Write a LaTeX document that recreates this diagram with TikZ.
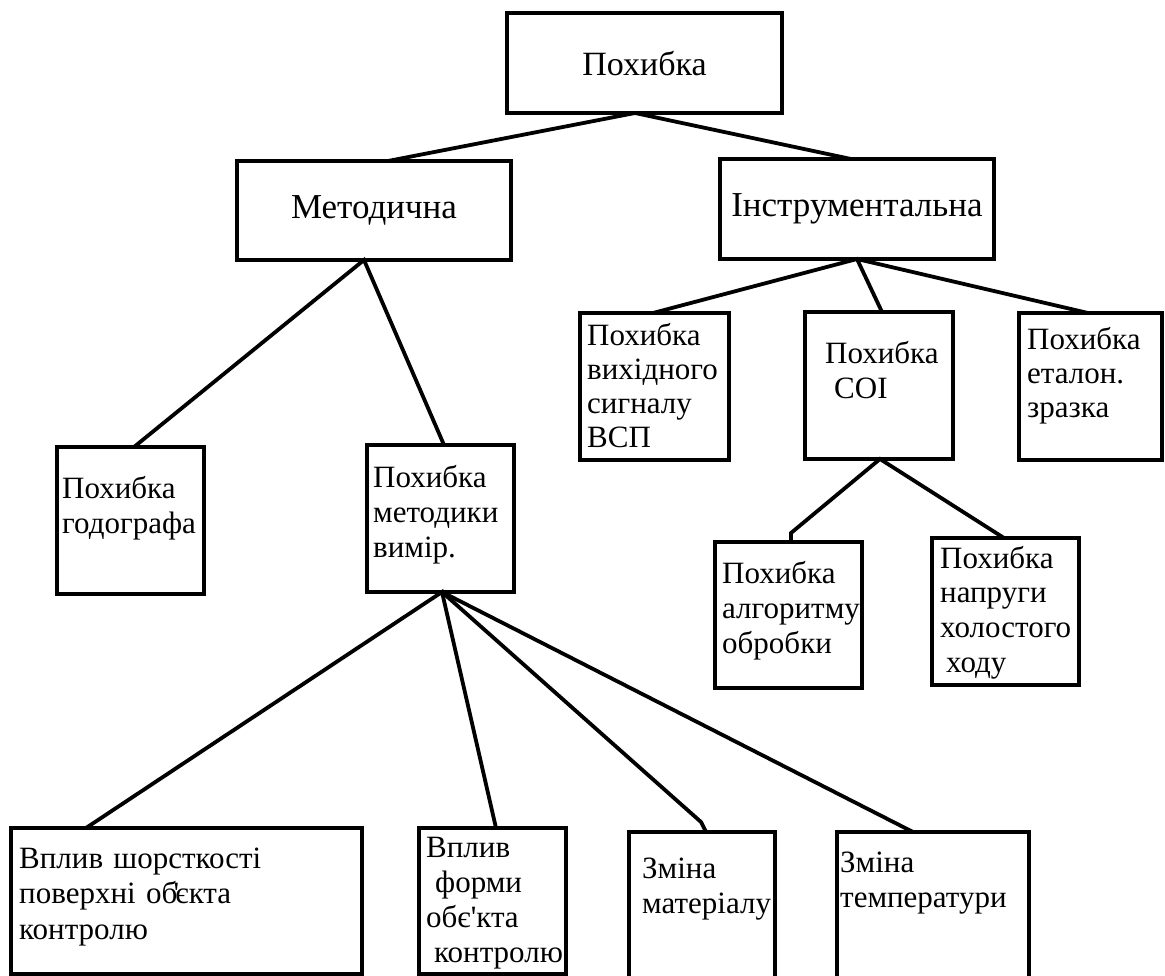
\documentclass[tikz,border=0pt]{standalone}
\usepackage{fontspec}
\setmainfont{Liberation Serif}
\usetikzlibrary{calc}

\begin{document}
\begin{tikzpicture}[x=1pt,y=-1pt,
  box/.style={draw=black,line width=4.4pt,inner sep=0pt,outer sep=0pt,anchor=north west},
  txt/.style={inner sep=0pt,anchor=base west,text width=330pt,align=left,font=\fontsize{31}{35}\selectfont},
  link/.style={line width=3.8pt,line cap=round}]
\useasboundingbox (0,0) rectangle (1165,976);
% top levels
\node[box,minimum width=275,minimum height=100,font=\fontsize{34}{40}\selectfont] (err) at (507,13) {Похибка};
\node[box,minimum width=274,minimum height=99,font=\fontsize{35}{40}\selectfont] (met) at (237,161) {Методична};
\node[box,minimum width=274,minimum height=100,font=\fontsize{35}{40}\selectfont] (ins) at (720,159) {Інструментальна};
% methodical branch
\node[box,minimum width=147,minimum height=147] (hod) at (57,447) {};
\node[txt] (hod-t) at (62,498) {Похибка\\годографа};
\node[box,minimum width=147,minimum height=147] (mtd) at (367,445) {};
\node[txt] (mtd-t) at (373,487) {Похибка\\методики\\вимір.};
\node[box,minimum width=351,minimum height=146] (sho) at (11,828) {};
\node[txt,font=\fontsize{31}{35.5}\selectfont] (sho-t) at (19,868) {Вплив шорсткості\\поверхні об\kern-0.12em\textquotesingle\kern-0.12emєкта\\контролю};
\node[box,minimum width=147,minimum height=146] (frm) at (419,828) {};
\node[txt] (frm-t) at (426,857) {Вплив\\\hspace*{9pt}форми\\обє\textquotesingle кта\\\hspace*{8pt}контролю};
\node[box,minimum width=146,minimum height=150] (mat) at (629,832) {};
\node[txt] (mat-t) at (642,878) {Зміна\\матеріалу};
\node[box,minimum width=192,minimum height=150] (tmp) at (837,832) {};
\node[txt] (tmp-t) at (840,872) {Зміна\\температури};
% instrumental branch
\node[box,minimum width=149,minimum height=147] (vyh) at (580,313) {};
\node[txt,font=\fontsize{31}{34.3}\selectfont] (vyh-t) at (587,345) {Похибка\\вихідного\\сигналу\\ВСП};
\node[box,minimum width=148,minimum height=147] (soi) at (805,312) {};
\node[txt] (soi-t) at (825,363) {Похибка\\\hspace*{9pt}СОІ};
\node[box,minimum width=143,minimum height=147] (etl) at (1019,313) {};
\node[txt,font=\fontsize{31}{34}\selectfont] (etl-t) at (1027,350) {Похибка\\еталон.\\зразка};
\node[box,minimum width=147,minimum height=146] (alg) at (715,542) {};
\node[txt] (alg-t) at (722,583) {Похибка\\алгоритму\\обробки};
\node[box,minimum width=147,minimum height=147] (npr) at (932,538) {};
\node[txt,font=\fontsize{31}{34.7}\selectfont] (npr-t) at (940,568) {Похибка\\напруги\\холостого\\\hspace*{6pt}ходу};
% connectors
\draw[link] ([xshift=14]met.north) -- ([xshift=-9.5]err.south) -- ([xshift=-6]ins.north);
\draw[link] (hod.north) ++(3.5,0) -- ([xshift=-10]met.south) -- ([xshift=3.5]mtd.north);
\draw[link] ([xshift=-1.5]vyh.north) -- (ins.south) -- ([xshift=3]soi.north);
\draw[link] (ins.south) -- ([xshift=-2.5]etl.north);
\draw[link] ([xshift=2.5]alg.north) -- ($([xshift=2.5]alg.north)+(0,-9)$) -- ([xshift=1]soi.south) -- ([xshift=-1.5]npr.north);
\draw[link] ([xshift=-100.5]sho.north) -- ([xshift=1.5]mtd.south) -- ([xshift=3.5]frm.north);
\draw[link] ([xshift=1.5]mtd.south) -- ($([xshift=4]mat.north)+(-5,-10)$) -- ([xshift=4]mat.north);
\draw[link] ([xshift=1.5]mtd.south) -- ([xshift=-20]tmp.north);
\end{tikzpicture}
\end{document}
